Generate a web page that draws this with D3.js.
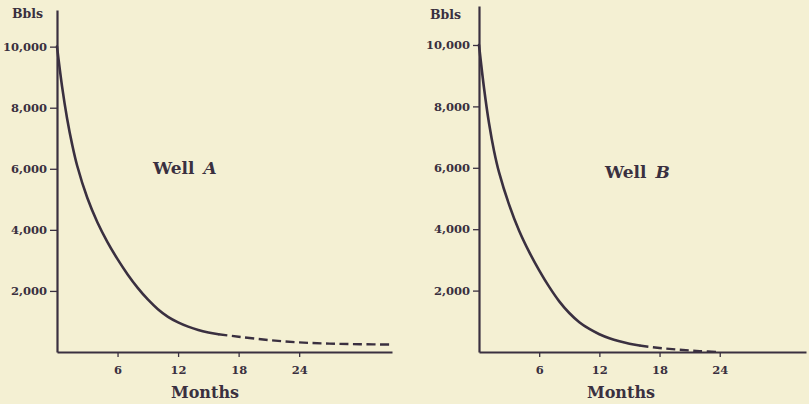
<!DOCTYPE html>
<html><head><meta charset="utf-8">
<script src="https://cdn.jsdelivr.net/npm/d3@7/dist/d3.min.js"></script>
<style>html,body{margin:0;padding:0;background:#f4f0d3;} svg{display:block}</style>
</head><body><svg id="c" width="809" height="404"></svg>
<script>
// ---- data ----
const yTickValues = [2000, 4000, 6000, 8000, 10000];
const xTickValues = [6, 12, 18, 24];
const yAxisLabel = "Bbls";
const xAxisLabel = "Months";
const wellNames = ["A", "B"];

const wellASolidMonths = [0,0.5,1,1.5,2,3,4,5,6,7,8,9,10,11,12,13,14,15,16];
const wellASolidBbls   = [10000,8700,7650,6800,6100,5050,4250,3600,3040,2540,2100,1720,1400,1150,970,830,720,640,580];
const wellADashedMonths = [16,18,21,24,27,30,33.2];
const wellADashedBbls   = [580,500,390,315,275,255,245];

const wellBSolidMonths = [0,0.5,1,1.5,2,3,4,5,6,7,8,9,10,11,12,13,14,15,16];
const wellBSolidBbls   = [10000,8600,7450,6550,5850,4800,3950,3260,2660,2120,1650,1270,970,750,580,450,350,270,210];
const wellBDashedMonths = [16,18,20,22,24];
const wellBDashedBbls   = [210,130,75,30,0];

// ---- layout ----
const ink = "#3a3040";
const font = "'DejaVu Serif', serif";
const panels = [
  { name: wellNames[0], x0: 57, x1: 392, xMax: 33.2, yTop: 10, yBottom: 352, yMax: 11200, ytick: 7,
    solid: [wellASolidMonths, wellASolidBbls], dashed: [wellADashedMonths, wellADashedBbls],
    title: [153, 174], bbls: [12, 18], months: [205, 398] },
  { name: wellNames[1], x0: 479, x1: 806, xMax: 32.6, yTop: 6, yBottom: 352, yMax: 11270, ytick: 6,
    solid: [wellBSolidMonths, wellBSolidBbls], dashed: [wellBDashedMonths, wellBDashedBbls],
    title: [605, 178], bbls: [430, 19], months: [621, 398] }
];

const svg = d3.select("#c");
svg.append("rect").attr("width", 809).attr("height", 404).attr("fill", "#f4f0d3");

panels.forEach(p => {
  const x = d3.scaleLinear().domain([0, p.xMax]).range([p.x0, p.x1]);
  const y = d3.scaleLinear().domain([0, p.yMax]).range([p.yBottom, p.yTop]);
  const g = svg.append("g");

  const ya = g.append("g").attr("transform", `translate(${x(0)},0)`)
    .call(d3.axisLeft(y).tickValues(yTickValues).tickSize(p.ytick).tickSizeOuter(0).tickPadding(3).tickFormat(d3.format(",")));
  const xa = g.append("g").attr("transform", `translate(0,${y(0)})`)
    .call(d3.axisBottom(x).tickValues(xTickValues).tickSize(5).tickSizeOuter(0).tickPadding(9));

  [ya, xa].forEach(a => {
    a.select(".domain").attr("stroke", ink).attr("stroke-width", 2.2);
    a.selectAll(".tick line").attr("stroke", ink).attr("stroke-width", 1.3);
    a.selectAll(".tick text").attr("fill", ink).attr("font-family", font)
      .attr("font-weight", "bold").attr("font-size", 11.5);
  });

  const line = d3.line().x(d => x(d[0])).y(d => y(d[1])).curve(d3.curveCatmullRom.alpha(0.5));
  const solid = p.solid[0].map((m, i) => [m, p.solid[1][i]]);
  const dashed = p.dashed[0].map((m, i) => [m, p.dashed[1][i]]);
  g.append("path").attr("d", line(solid)).attr("fill", "none").attr("stroke", ink)
    .attr("stroke-width", 2.6).attr("stroke-linecap", "round");
  g.append("path").attr("d", line(dashed)).attr("fill", "none").attr("stroke", ink)
    .attr("stroke-width", 2.4).attr("stroke-dasharray", "9,4.5");

  g.append("text").attr("x", p.bbls[0]).attr("y", p.bbls[1]).text(yAxisLabel)
    .attr("font-family", font).attr("font-weight", "bold").attr("font-size", 12.5).attr("fill", ink);
  g.append("text").attr("x", p.months[0]).attr("y", p.months[1]).attr("text-anchor", "middle").text(xAxisLabel)
    .attr("font-family", font).attr("font-weight", "bold").attr("font-size", 16).attr("fill", ink);
  const t = g.append("text").attr("x", p.title[0]).attr("y", p.title[1])
    .attr("font-family", font).attr("font-weight", "bold").attr("font-size", 17).attr("fill", ink);
  t.append("tspan").text("Well");
  t.append("tspan").attr("dx", 9).attr("font-style", "italic").text(p.name);
});
</script></body></html>
